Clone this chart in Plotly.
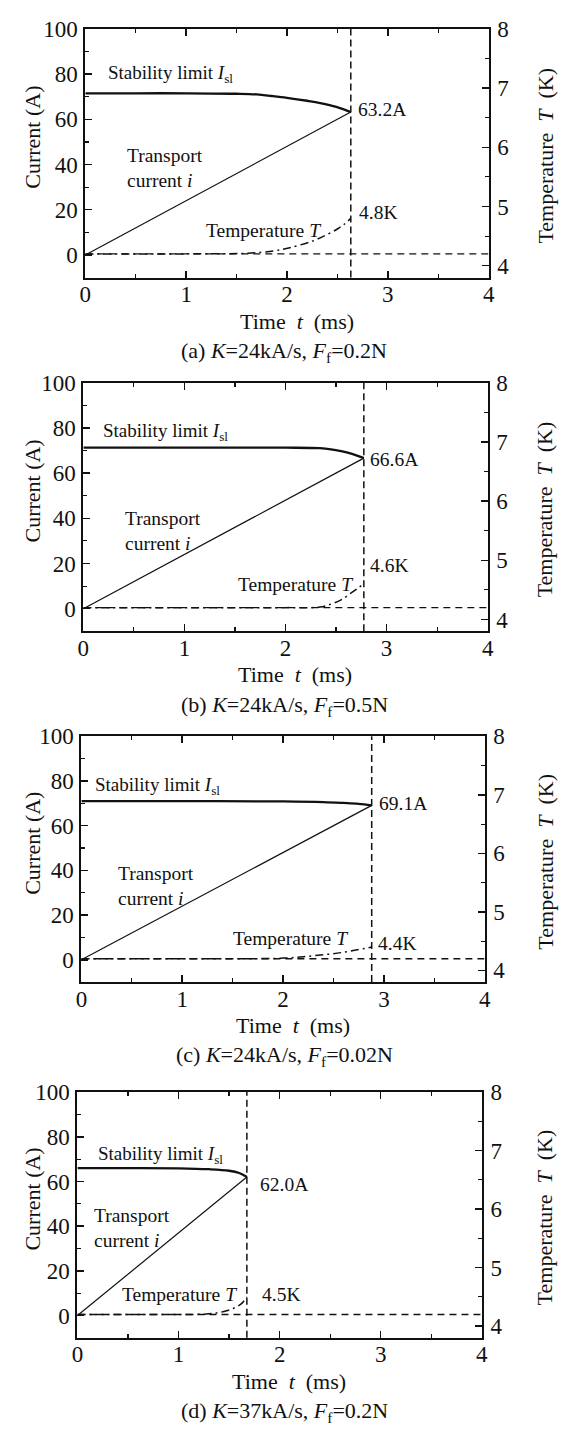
import plotly.graph_objects as go

W, H = 571, 1432

# ---------------- data ----------------
captions = [
    "(a) <i>K</i>=24kA/s, <i>F</i><sub>f</sub>=0.2N",
    "(b) <i>K</i>=24kA/s, <i>F</i><sub>f</sub>=0.5N",
    "(c) <i>K</i>=24kA/s, <i>F</i><sub>f</sub>=0.02N",
    "(d) <i>K</i>=37kA/s, <i>F</i><sub>f</sub>=0.2N",
]
x_ticks = [0, 1, 2, 3, 4]
cur_ticks = [0, 20, 40, 60, 80, 100]
temp_ticks = [4, 5, 6, 7, 8]

quench_t = [2.633, 2.775, 2.879, 1.676]      # ms
quench_i = [63.2, 66.6, 69.1, 62.0]          # A
quench_T = [4.8, 4.6, 4.4, 4.5]              # K
T0 = 4.2                                     # bath temperature, K

# stability limit I_sl
sl_t_a = [0, 0.5, 1.0, 1.5, 1.7, 1.85, 2.0, 2.2, 2.33, 2.49, 2.633]
sl_i_a = [71.5, 71.5, 71.5, 71.3, 71.0, 70.3, 69.5, 68.2, 67.2, 65.5, 63.2]
sl_t_b = [0, 1.0, 2.0, 2.34, 2.45, 2.55, 2.65, 2.775]
sl_i_b = [71.2, 71.2, 71.2, 71.0, 70.5, 69.7, 68.6, 66.6]
sl_t_c = [0, 1.0, 2.0, 2.4, 2.6, 2.75, 2.879]
sl_i_c = [71.0, 71.0, 70.9, 70.6, 70.2, 69.8, 69.1]
sl_t_d = [0, 0.5, 1.0, 1.3, 1.5, 1.6, 1.676]
sl_i_d = [66.0, 66.0, 65.9, 65.5, 64.8, 63.8, 62.0]

# transport current i (ramp)
tr_t_a = [0, 2.633]
tr_i_a = [0, 63.2]
tr_t_b = [0, 2.775]
tr_i_b = [0, 66.6]
tr_t_c = [0, 2.879]
tr_i_c = [0, 69.1]
tr_t_d = [0, 1.676]
tr_i_d = [0, 62.0]

# temperature T
tp_t_a = [0, 1.0, 1.6, 1.87, 2.04, 2.26, 2.4, 2.5, 2.56, 2.633]
tp_T_a = [4.2, 4.2, 4.21, 4.25, 4.31, 4.42, 4.53, 4.62, 4.69, 4.8]
tp_t_b = [0, 1.0, 2.0, 2.34, 2.45, 2.55, 2.65, 2.775]
tp_T_b = [4.2, 4.2, 4.2, 4.21, 4.26, 4.33, 4.45, 4.6]
tp_t_c = [0, 1.5, 2.0, 2.3, 2.6, 2.879]
tp_T_c = [4.2, 4.2, 4.21, 4.25, 4.31, 4.4]
tp_t_d = [0, 1.0, 1.3, 1.45, 1.55, 1.62, 1.676]
tp_T_d = [4.2, 4.2, 4.21, 4.25, 4.31, 4.38, 4.5]

sl_t = [sl_t_a, sl_t_b, sl_t_c, sl_t_d]
sl_i = [sl_i_a, sl_i_b, sl_i_c, sl_i_d]
tr_t = [tr_t_a, tr_t_b, tr_t_c, tr_t_d]
tr_i = [tr_i_a, tr_i_b, tr_i_c, tr_i_d]
tp_t = [tp_t_a, tp_t_b, tp_t_c, tp_t_d]
tp_T = [tp_T_a, tp_T_b, tp_T_c, tp_T_d]

# ---------------- layout (pixel boxes of each panel) ----------------
boxes = [  # left, right, top, bottom in px
    (81, 493, 17, 268),
    (79, 492, 374, 625),
    (77, 489, 731, 979),
    (73, 486, 1090, 1338),
]
# inner label positions (data coords): stab, transport, temperature(right end), I label, T label
label_pos = [
    dict(sl=(0.21, 80.0), tr=(0.39, 38.5), tp=(2.36, 10.6), il=(2.68, 64.4), tl=(2.69, 18.7)),
    dict(sl=(0.17, 78.0), tr=(0.39, 34.5), tp=(2.69, 10.7), il=(2.82, 66.0), tl=(2.82, 19.0)),
    dict(sl=(0.12, 77.7), tr=(0.34, 33.0), tp=(2.66, 9.6), il=(2.93, 69.9), tl=(2.92, 7.4)),
    dict(sl=(0.18, 72.0), tr=(0.14, 39.0), tp=(1.60, 9.3), il=(1.79, 58.7), tl=(1.81, 9.3)),
]

FONT = "Liberation Serif"
BLACK = "#111111"
LBL = 19.5

def fx(p):
    return p / W

def fy(p):
    return 1 - p / H

fig = go.Figure()
layout = dict(
    width=W, height=H, margin=dict(l=0, r=0, t=0, b=0),
    paper_bgcolor="white", plot_bgcolor="white", showlegend=False,
    font=dict(family=FONT, color=BLACK, size=18),
)
annotations = []
shapes = []
TICKF = dict(family=FONT, size=23, color=BLACK)

for k in range(4):
    L, R, T, B = boxes[k]
    xn = "x" if k == 0 else f"x{k+1}"
    yl = "y" if k == 0 else f"y{2*k+1}"
    yr = f"y{2*k+2}"
    xkey = "xaxis" if k == 0 else f"xaxis{k+1}"
    ylkey = "yaxis" if k == 0 else f"yaxis{2*k+1}"
    yrkey = f"yaxis{2*k+2}"

    layout[xkey] = dict(
        domain=[fx(L), fx(R)], anchor=yl, range=[0, 4],
        tickmode="array", tickvals=x_ticks, ticks="inside", ticklen=7, tickwidth=1.5,
        tickcolor=BLACK,
        minor=dict(ticks="inside", dtick=0.5, ticklen=4, tickwidth=1.2, tickcolor=BLACK),
        showline=True, linewidth=2, linecolor=BLACK, mirror="ticks",
        showgrid=False, zeroline=False,
        tickfont=TICKF, ticklabelstandoff=-5,
        fixedrange=True,
    )
    layout[ylkey] = dict(
        domain=[fy(B), fy(T)], anchor=xn, range=[-10, 100],
        tickmode="array", tickvals=cur_ticks, ticks="inside", ticklen=7, tickwidth=1.5,
        tickcolor=BLACK,
        minor=dict(ticks="inside", dtick=10, tick0=0, ticklen=4, tickwidth=1.2, tickcolor=BLACK),
        showline=True, linewidth=2, linecolor=BLACK,
        showgrid=False, zeroline=False,
        tickfont=TICKF, ticklabelstandoff=1,
        fixedrange=True,
    )
    layout[yrkey] = dict(
        overlaying=yl, side="right", anchor=xn, range=[3.8, 8],
        tickmode="array", tickvals=temp_ticks, ticks="inside", ticklen=7, tickwidth=1.5,
        tickcolor=BLACK,
        minor=dict(ticks="inside", dtick=0.5, tick0=4, ticklen=4, tickwidth=1.2, tickcolor=BLACK),
        showline=True, linewidth=2, linecolor=BLACK,
        showgrid=False, zeroline=False,
        tickfont=TICKF, ticklabelstandoff=2,
        fixedrange=True,
    )

    # baseline at bath temperature
    fig.add_trace(go.Scatter(x=[0, 4], y=[T0, T0], xaxis=xn, yaxis=yr, mode="lines",
                             line=dict(color=BLACK, width=1.4, dash="7px,5px"), hoverinfo="skip"))
    # temperature
    fig.add_trace(go.Scatter(x=tp_t[k], y=tp_T[k], xaxis=xn, yaxis=yr, mode="lines",
                             line=dict(color=BLACK, width=1.5, dash="8px,4px,2px,4px", shape="spline"),
                             hoverinfo="skip"))
    # transport current
    fig.add_trace(go.Scatter(x=tr_t[k], y=tr_i[k], xaxis=xn, yaxis=yl, mode="lines",
                             line=dict(color=BLACK, width=1.2), hoverinfo="skip"))
    # stability limit
    fig.add_trace(go.Scatter(x=sl_t[k], y=sl_i[k], xaxis=xn, yaxis=yl, mode="lines",
                             line=dict(color=BLACK, width=2.3, shape="spline"), hoverinfo="skip"))
    # quench time vertical line
    shapes.append(dict(type="line", xref=xn, yref=f"{yl} domain", x0=quench_t[k], x1=quench_t[k],
                       y0=0, y1=1, line=dict(color=BLACK, width=1.5, dash="7px,4px")))

    lp = label_pos[k]
    annotations += [
        dict(xref=xn, yref=yl, x=lp["sl"][0], y=lp["sl"][1], xanchor="left", yanchor="middle",
             text="Stability limit <i>I</i><sub>sl</sub>", showarrow=False, font=dict(size=19)),
        dict(xref=xn, yref=yl, x=lp["tr"][0], y=lp["tr"][1], xanchor="left", yanchor="middle",
             text="Transport<br>current <i>i</i>", align="left", showarrow=False, font=dict(size=LBL)),
        dict(xref=xn, yref=yl, x=lp["tp"][0], y=lp["tp"][1], xanchor="right", yanchor="middle",
             text="Temperature <i>T</i>", showarrow=False, font=dict(size=LBL)),
        dict(xref=xn, yref=yl, x=lp["il"][0], y=lp["il"][1], xanchor="left", yanchor="middle",
             text=f"{quench_i[k]:.1f}A", showarrow=False, font=dict(size=LBL)),
        dict(xref=xn, yref=yl, x=lp["tl"][0], y=lp["tl"][1], xanchor="left", yanchor="middle",
             text=f"{quench_T[k]:.1f}K", showarrow=False, font=dict(size=LBL)),
    ]
    cy = (T + B) / 2
    cx = (L + R) / 2
    annotations += [
        dict(xref="paper", yref="paper", x=fx(27), y=fy(cy - 16), xanchor="center", yanchor="middle",
             text="Current (A)", textangle=-90, showarrow=False, font=dict(size=22)),
        dict(xref="paper", yref="paper", x=fx(551), y=fy(cy + 2), xanchor="center", yanchor="middle",
             text="Temperature  <i>T</i>  (K)", textangle=-90, showarrow=False, font=dict(size=22)),
        dict(xref="paper", yref="paper", x=fx(cx + 10), y=fy(B + 44), xanchor="center", yanchor="middle",
             text="Time  <i>t</i>  (ms)", showarrow=False, font=dict(size=22)),
        dict(xref="paper", yref="paper", x=fx(284), y=fy(B + 75), xanchor="center", yanchor="middle",
             text=captions[k], showarrow=False, font=dict(size=22)),
    ]

layout["annotations"] = annotations
layout["shapes"] = shapes
fig.update_layout(**layout)
fig.write_html(
    "out.html",
    config={"displayModeBar": False, "staticPlot": True},
    post_script="document.body.style.margin='0';document.body.style.overflow='hidden';",
)
